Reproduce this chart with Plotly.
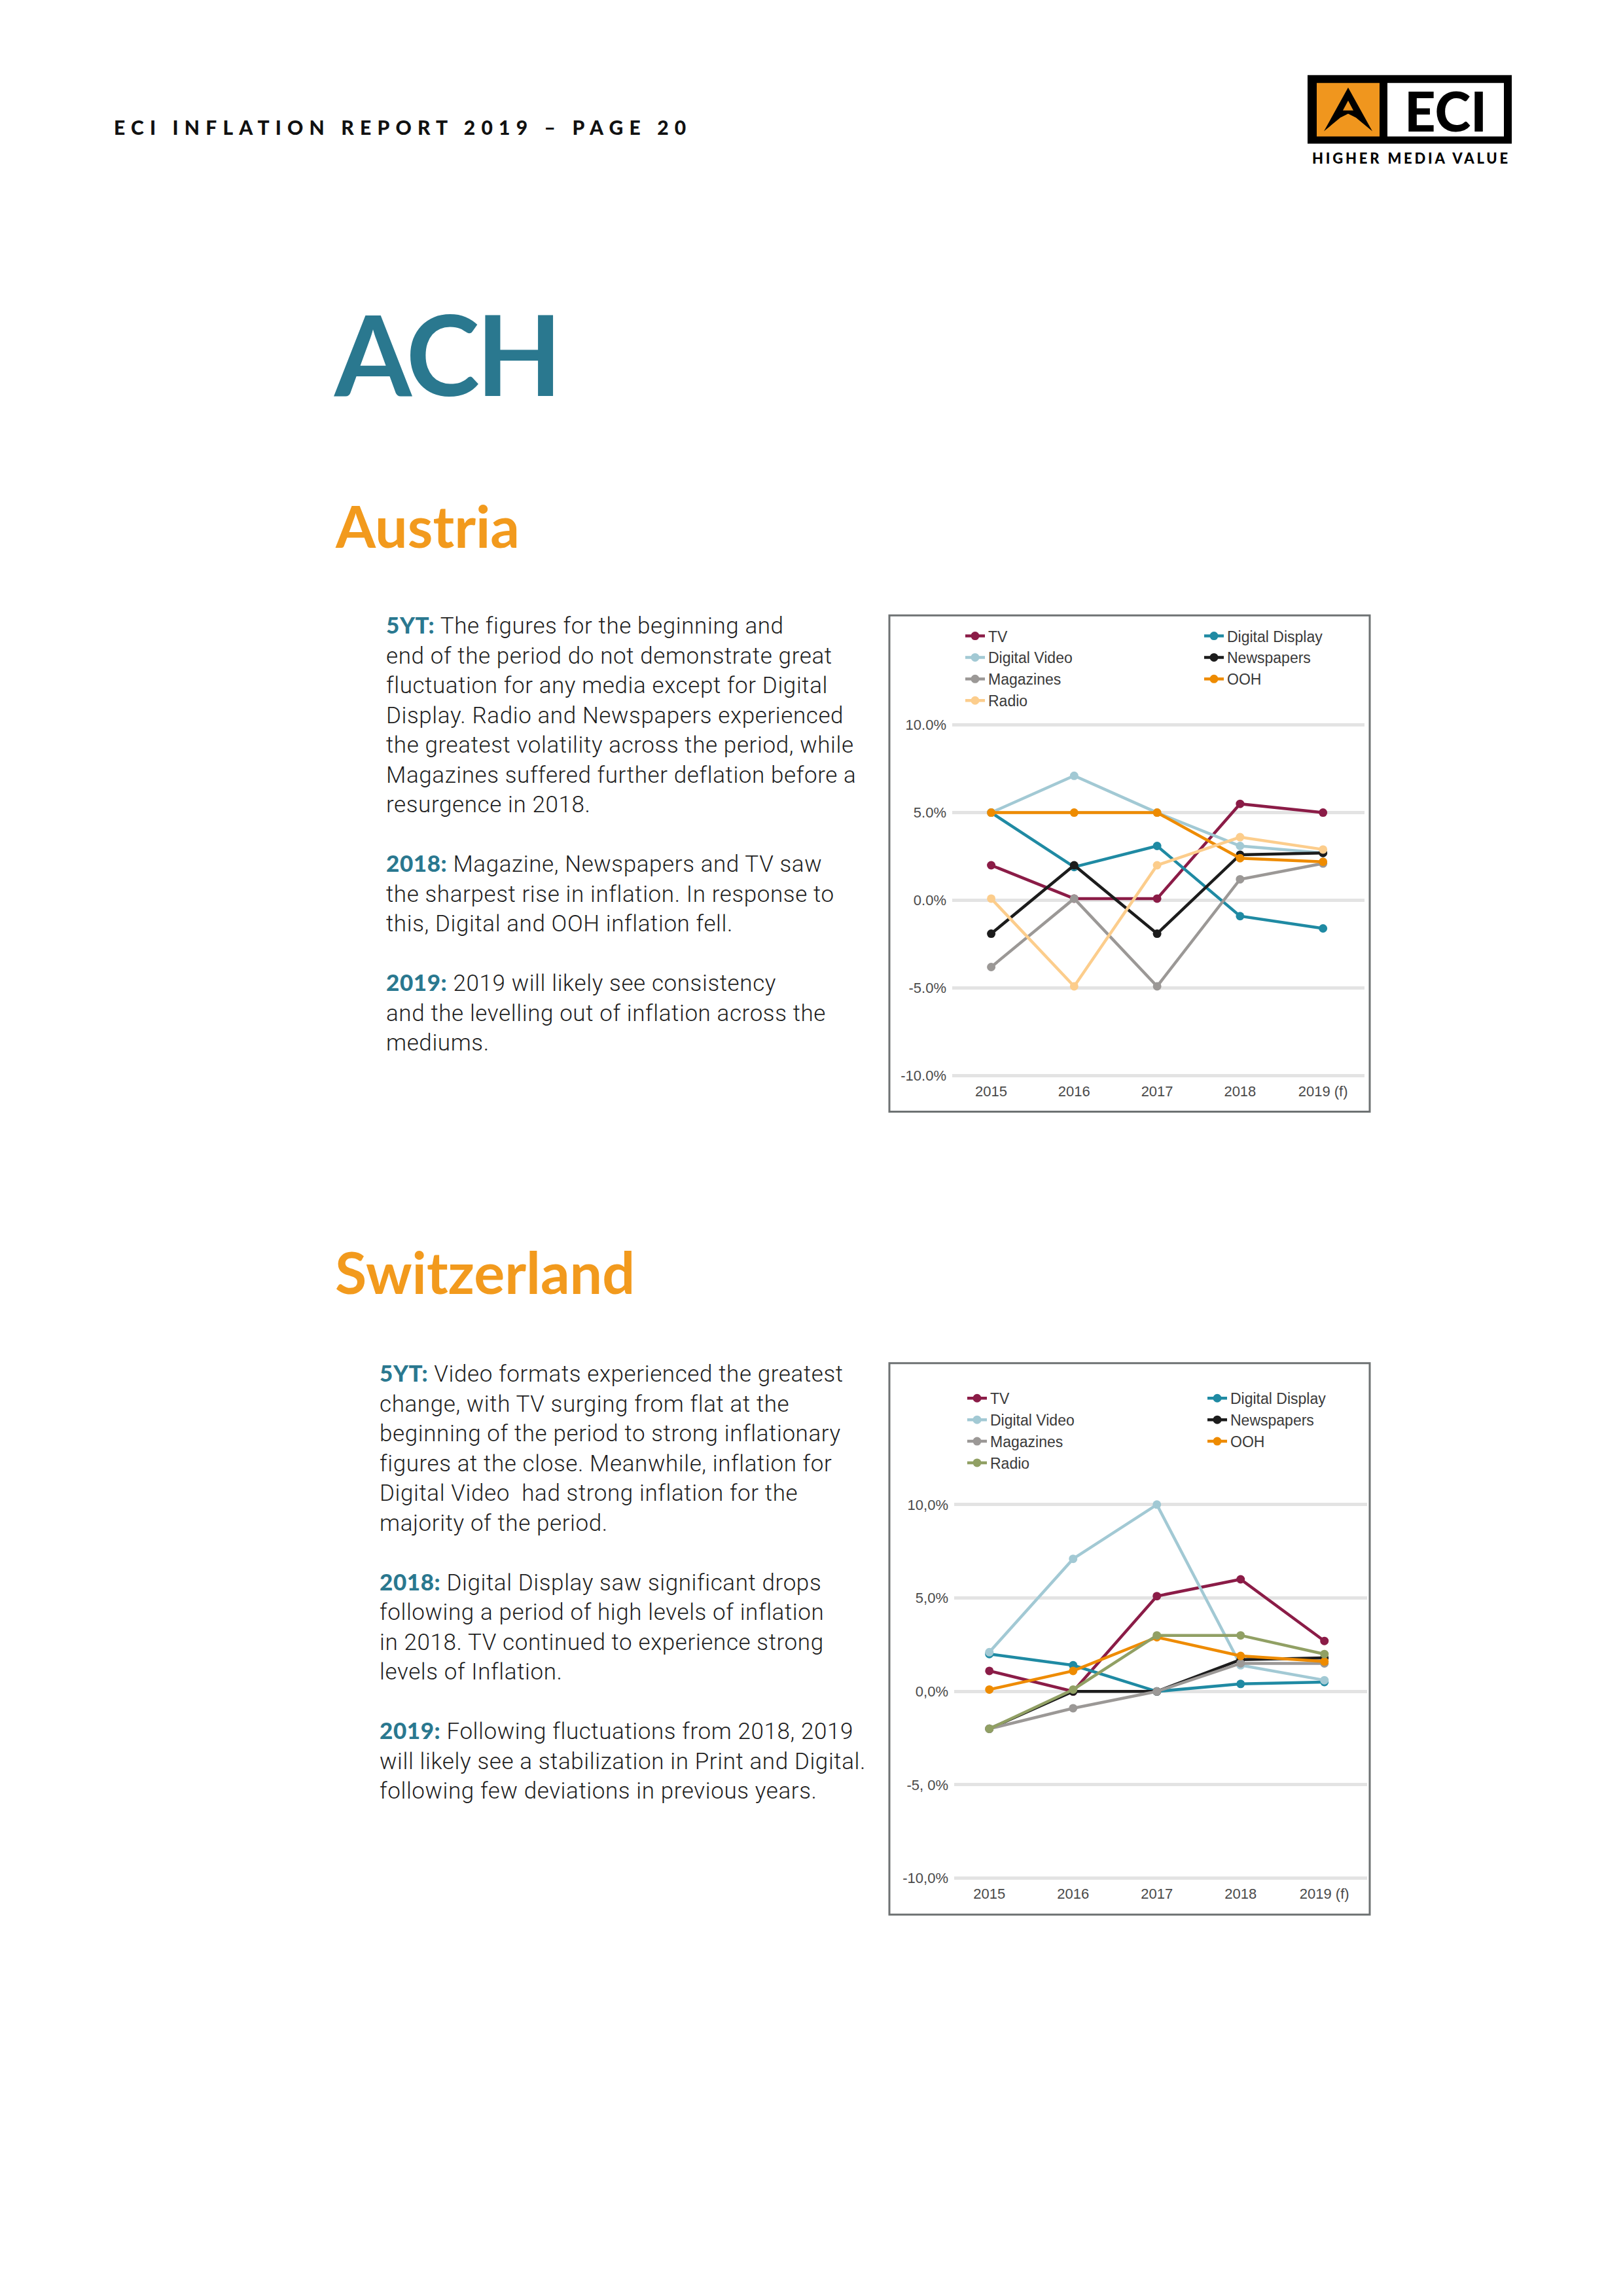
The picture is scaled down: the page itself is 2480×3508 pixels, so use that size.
import plotly.graph_objects as go

# ---------------- data ----------------
years = ["2015", "2016", "2017", "2018", "2019 (f)"]
series_names = ["TV", "Digital Display", "Digital Video", "Newspapers", "Magazines", "OOH", "Radio"]

austria_tv = [2.0, 0.1, 0.1, 5.5, 5.0]
austria_digital_display = [5.0, 1.9, 3.1, -0.9, -1.6]
austria_digital_video = [5.0, 7.1, 5.0, 3.1, 2.7]
austria_newspapers = [-1.9, 2.0, -1.9, 2.6, 2.7]
austria_magazines = [-3.8, 0.1, -4.9, 1.2, 2.1]
austria_ooh = [5.0, 5.0, 5.0, 2.4, 2.2]
austria_radio = [0.1, -4.9, 2.0, 3.6, 2.9]

swiss_tv = [1.1, 0.0, 5.1, 6.0, 2.7]
swiss_digital_display = [2.0, 1.4, 0.0, 0.4, 0.5]
swiss_digital_video = [2.1, 7.1, 10.0, 1.4, 0.6]
swiss_newspapers = [-2.0, 0.0, 0.0, 1.7, 1.8]
swiss_magazines = [-2.0, -0.9, 0.0, 1.5, 1.5]
swiss_ooh = [0.1, 1.1, 2.9, 1.9, 1.6]
swiss_radio = [-2.0, 0.1, 3.0, 3.0, 2.0]

y_tickvals = [-10, -5, 0, 5, 10]
austria_ticktext = ["-10.0%", "-5.0%", "0.0%", "5.0%", "10.0%"]
swiss_ticktext = ["-10,0%", "-5, 0%", "0,0%", "5,0%", "10,0%"]

austria_values = [austria_tv, austria_digital_display, austria_digital_video,
                  austria_newspapers, austria_magazines, austria_ooh, austria_radio]
swiss_values = [swiss_tv, swiss_digital_display, swiss_digital_video,
                swiss_newspapers, swiss_magazines, swiss_ooh, swiss_radio]

austria_colors = ["#8B1C47", "#1F8AA3", "#A2C9D4", "#1C1C1C", "#9B9896", "#EE8B00", "#FCCD8C"]
swiss_colors = ["#8B1C47", "#1F8AA3", "#A2C9D4", "#1C1C1C", "#9B9896", "#EE8B00", "#91A064"]
left_column = {"TV", "Digital Video", "Magazines", "Radio"}

# ---------------- page geometry ----------------
W, H = 2480, 3508
OFF = 8  # browser default body margin
def px(x):
    return (x - OFF) / W
def py(y):
    return 1 - (y - OFF) / H

TEAL = "#2A788F"
ORANGE = "#F29A1D"
TICK_FONT = dict(family="Liberation Sans, Arial, sans-serif", size=22, color="#4A4A4A")
LEG_FONT = dict(family="Liberation Sans, Arial, sans-serif", size=23, color="#3A3A3A")

fig = go.Figure()

def add_chart(values, colors, xa, ya, leg_left, leg_right):
    for name, vals, col in zip(series_names, values, colors):
        fig.add_trace(go.Scatter(
            x=years, y=vals, name=name, mode="lines+markers",
            line=dict(color=col, width=4.5),
            marker=dict(color=col, size=13),
            xaxis=xa, yaxis=ya,
            legend=leg_left if name in left_column else leg_right,
            hoverinfo="skip",
        ))

add_chart(austria_values, austria_colors, "x", "y", "legend", "legend2")
add_chart(swiss_values, swiss_colors, "x2", "y2", "legend3", "legend4")

def xaxis(domain, rng):
    return dict(domain=domain, type="category", range=rng, showgrid=False,
                zeroline=False, showline=False, ticks="", tickfont=TICK_FONT,
                fixedrange=True)

def yaxis(domain, anchor, ticktext):
    return dict(domain=domain, anchor=anchor, range=[-10.3, 10.4],
                tickvals=y_tickvals, ticktext=ticktext, showgrid=True,
                gridcolor="#E3E3E3", gridwidth=5, zeroline=False, showline=False,
                ticks="", tickfont=TICK_FONT, ticklabelstandoff=8, fixedrange=True)

def legend(left, top):
    return dict(x=px(left), y=py(top), xanchor="left", yanchor="top",
                orientation="v", bgcolor="rgba(0,0,0,0)", borderwidth=0,
                font=LEG_FONT, traceorder="normal")

layout = dict(
    width=W, height=H, margin=dict(l=0, r=0, t=0, b=0),
    paper_bgcolor="white", plot_bgcolor="white", showlegend=True,
    xaxis=xaxis([px(1455), px(2085)], [-0.47, 4.5]),
    yaxis=yaxis([py(1653), py(1097)], "x", austria_ticktext),
    xaxis2=xaxis([px(1458), px(2089)], [-0.42, 4.51]) | dict(anchor="y2"),
    yaxis2=yaxis([py(2882), py(2290)], "x2", swiss_ticktext),
    legend=legend(1470, 950),
    legend2=legend(1835, 950),
    legend3=legend(1473, 2117),
    legend4=legend(1840, 2117),
)
fig.update_layout(**layout)

shapes = []
# chart frames
for (x0, y0, x1, y1) in [(1359, 940, 2093, 1700), (1359, 2085, 2093, 2929)]:
    shapes.append(dict(type="rect", xref="paper", yref="paper",
                       x0=px(x0), x1=px(x1), y0=py(y1), y1=py(y0),
                       line=dict(color="#6E7273", width=3), fillcolor="rgba(0,0,0,0)"))
# logo
shapes.append(dict(type="rect", xref="paper", yref="paper", x0=px(1998), x1=px(2310),
                   y0=py(218), y1=py(113), line=dict(width=0), fillcolor="#000000"))
shapes.append(dict(type="rect", xref="paper", yref="paper", x0=px(2012), x1=px(2108),
                   y0=py(207), y1=py(125), line=dict(width=0), fillcolor="#F0961E"))
shapes.append(dict(type="rect", xref="paper", yref="paper", x0=px(2120), x1=px(2298),
                   y0=py(207), y1=py(125), line=dict(width=0), fillcolor="#FFFFFF"))

def path(points):
    return "M " + " L ".join(f"{px(x):.6f},{py(y):.6f}" for x, y in points) + " Z"

shapes.append(dict(type="path", xref="paper", yref="paper",
                   path=path([(2060, 132), (2097, 199), (2072, 178), (2060, 172), (2048, 178), (2023, 199)]),
                   line=dict(width=0), fillcolor="#000000"))
shapes.append(dict(type="path", xref="paper", yref="paper",
                   path=path([(2060, 152), (2068, 167), (2052, 167)]),
                   line=dict(width=0), fillcolor="#F0961E"))
fig.update_layout(shapes=shapes)

BODY_FONT = dict(family="Roboto, Liberation Sans, sans-serif", size=35, color="#1E1E1E", weight=300)

def lab(t):
    return f'<span style="font-family:Lato;font-weight:900;color:{TEAL}">{t}</span>'

def body(lines):
    return "<br>".join(
        f'<span style="letter-spacing:0.6px">{ln}</span>' if ln else "" for ln in lines)

austria_text = body([
    lab("5YT:") + " The figures for the beginning and",
    "end of the period do not demonstrate great",
    "fluctuation for any media except for Digital",
    "Display. Radio and Newspapers experienced",
    "the greatest volatility across the period, while",
    "Magazines suffered further deflation before a",
    "resurgence in 2018.",
    "",
    lab("2018:") + " Magazine, Newspapers and TV saw",
    "the sharpest rise in inflation. In response to",
    "this, Digital and OOH inflation fell.",
    "",
    lab("2019:") + " 2019 will likely see consistency",
    "and the levelling out of inflation across the",
    "mediums.",
])

swiss_text = body([
    lab("5YT:") + " Video formats experienced the greatest",
    "change, with TV surging from flat at the",
    "beginning of the period to strong inflationary",
    "figures at the close. Meanwhile, inflation for",
    "Digital Video  had strong inflation for the",
    "majority of the period.",
    "",
    lab("2018:") + " Digital Display saw significant drops",
    "following a period of high levels of inflation",
    "in 2018. TV continued to experience strong",
    "levels of Inflation.",
    "",
    lab("2019:") + " Following fluctuations from 2018, 2019",
    "will likely see a stabilization in Print and Digital.",
    "following few deviations in previous years.",
])

annotations = [
    dict(text='<span style="letter-spacing:9.2px">ECI INFLATION REPORT 2019 – PAGE 20</span>',
         x=px(172), y=py(192), xanchor="left", yanchor="middle",
         font=dict(family="Lato", size=30, color="#111111", weight=900)),
    dict(text="ECI", x=px(2209), y=py(167), xanchor="center", yanchor="middle",
         font=dict(family="Lato", size=83, color="#000000", weight=900)),
    dict(text='<span style="letter-spacing:3.8px">HIGHER MEDIA VALUE</span>',
         x=px(2156), y=py(240), xanchor="center", yanchor="middle",
         font=dict(family="Lato", size=22, color="#000000", weight=900)),
    dict(text='<span style="letter-spacing:-5px">ACH</span>', x=px(508), y=py(538),
         xanchor="left", yanchor="middle",
         font=dict(family="Lato", size=170, color=TEAL, weight=700)),
    dict(text="Austria", x=px(510), y=py(803), xanchor="left", yanchor="middle",
         font=dict(family="Lato", size=88, color=ORANGE, weight=700)),
    dict(text="Switzerland", x=px(510), y=py(1945), xanchor="left", yanchor="middle",
         font=dict(family="Lato", size=88, color=ORANGE, weight=700)),
    dict(text=austria_text, x=px(588), y=py(931), xanchor="left", yanchor="top",
         align="left", font=BODY_FONT),
    dict(text=swiss_text, x=px(578), y=py(2076), xanchor="left", yanchor="top",
         align="left", font=BODY_FONT),
]
for a in annotations:
    a.update(xref="paper", yref="paper", showarrow=False)
fig.update_layout(annotations=annotations)

fig.write_html("out.html")
